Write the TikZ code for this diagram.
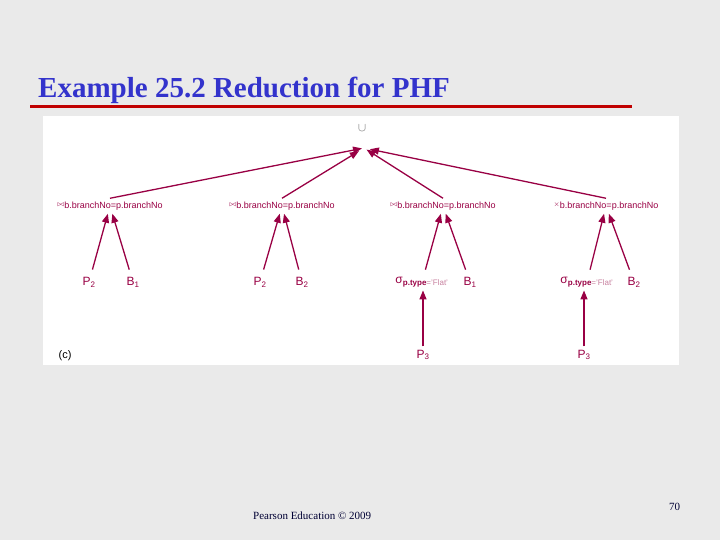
\documentclass[tikz,border=0pt]{standalone}
\usepackage{fontspec}
\setmainfont{Liberation Serif}
\setsansfont{Liberation Sans}
\usetikzlibrary{arrows.meta}
\definecolor{slidegrey}{RGB}{234,234,234}
\definecolor{titleblue}{RGB}{51,51,204}
\definecolor{rulered}{RGB}{192,0,0}
\definecolor{maroon}{RGB}{153,0,68}
\definecolor{palemaroon}{RGB}{200,130,160}
\definecolor{footnavy}{RGB}{0,0,51}

\begin{document}
\begin{tikzpicture}[x=1pt,y=-1pt,
  edge/.style={maroon, line width=1.3pt, -{Triangle[length=9pt,width=7pt]}},
  leaf/.style={text=maroon, font=\sffamily\fontsize{12}{12}\selectfont},
  joinop/.style={text=maroon, font=\sffamily\fontsize{9}{9}\selectfont}]
% Slide background and panel
\useasboundingbox (0,0) rectangle (720,540);
\fill[slidegrey] (0,0) rectangle (720,540);
\fill[white] (43,116) rectangle (679,365);

% Title and rule
\node[anchor=base west, inner sep=0, text=titleblue, font=\bfseries\fontsize{29}{29}\selectfont] (title) at (38,98) {Example 25.2 Reduction for PHF};
\draw[rulered, line width=3pt] (30,107) -- (632,107);

% Root of the tree
\node[text=gray!80!black, font=\fontsize{13}{13}\selectfont] (u) at (362,128) {$\cup$};
\coordinate (u-in) at (364,148);

% Joins
\node[joinop] (j1) at (110,206) {\raisebox{2pt}{\scriptsize$\bowtie$}b.branchNo=p.branchNo};
\node[joinop] (j2) at (282,206) {\raisebox{2pt}{\scriptsize$\bowtie$}b.branchNo=p.branchNo};
\node[joinop] (j3) at (443,206) {\raisebox{2pt}{\scriptsize$\bowtie$}b.branchNo=p.branchNo};
\node[joinop] (j4) at (606,206) {\raisebox{2pt}{\scriptsize$\times$}b.branchNo=p.branchNo};

% Leaves and selections
\node[leaf] (p2a) at (89,282)  {P\textsubscript{2}};
\node[leaf] (b1a) at (133,282) {B\textsubscript{1}};
\node[leaf] (p2b) at (260,282) {P\textsubscript{2}};
\node[leaf] (b2a) at (302,282) {B\textsubscript{2}};
\node[leaf] (s1)  at (422,282) {σ\textsubscript{\textbf{p.type}\textcolor{palemaroon}{='Flat'}}};
\node[leaf] (b1b) at (470,282) {B\textsubscript{1}};
\node[leaf] (s2)  at (587,282) {σ\textsubscript{\textbf{p.type}\textcolor{palemaroon}{='Flat'}}};
\node[leaf] (b2b) at (634,282) {B\textsubscript{2}};
\node[leaf] (p3a) at (423,355) {P\textsubscript{3}};
\node[leaf] (p3b) at (584,355) {P\textsubscript{3}};

% Edges
\draw[edge, shorten >=2pt] (j1.north) -- (u-in);
\draw[edge, shorten >=6pt] (j2.north) -- (u-in);
\draw[edge, shorten >=3pt] (j3.north) -- (u-in);
\draw[edge, shorten >=6pt] (j4.north) -- (u-in);
\draw[edge, shorten <=4pt] (p2a) -- (j1);
\draw[edge, shorten <=4pt] (b1a) -- (j1);
\draw[edge, shorten <=4pt] (p2b) -- (j2);
\draw[edge, shorten <=4pt] (b2a) -- (j2);
\draw[edge, shorten <=4pt] (s1) -- (j3);
\draw[edge, shorten <=4pt] (b1b) -- (j3);
\draw[edge, shorten <=4pt] (s2) -- (j4);
\draw[edge, shorten <=4pt] (b2b) -- (j4);
\draw[edge] (p3a) -- (p3a |- s1.south);
\draw[edge] (p3b) -- (p3b |- s2.south);

% Panel label and footer
\node[font=\sffamily\fontsize{11}{11}\selectfont] (tag) at (65,356) {(c)};
\node[anchor=base west, inner sep=0, text=footnavy, font=\fontsize{11}{11}\selectfont] (foot) at (253,519) {Pearson Education © 2009};
\node[anchor=base west, inner sep=0, text=footnavy, font=\fontsize{11}{11}\selectfont] (page) at (669,510) {70};
\end{tikzpicture}
\end{document}
